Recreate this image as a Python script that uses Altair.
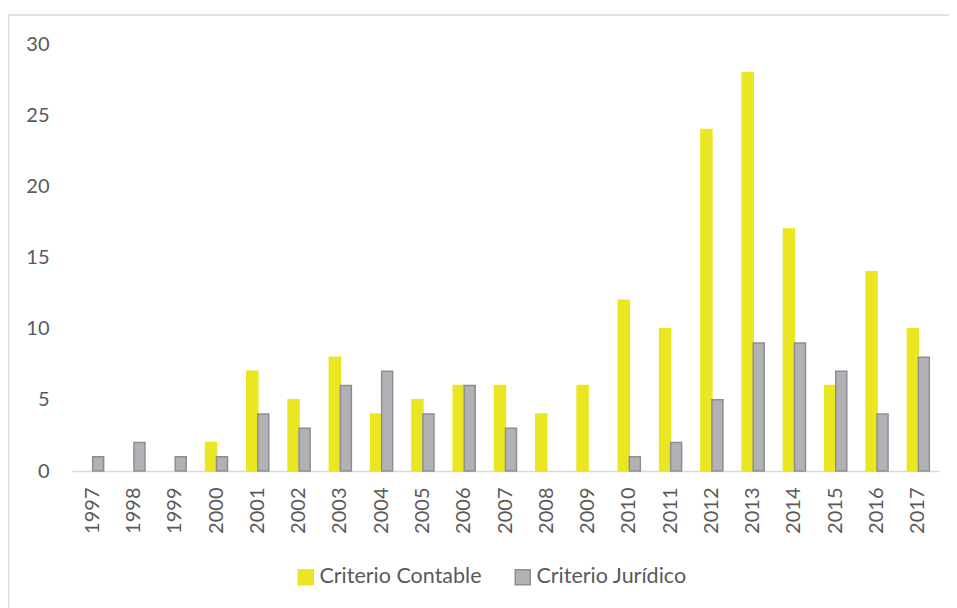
import altair as alt
import pandas as pd

years = [str(y) for y in range(1997, 2018)]
contable = [0, 0, 0, 2, 7, 5, 8, 4, 5, 6, 6, 4, 6, 12, 10, 24, 28, 17, 6, 14, 10]
juridico = [1, 2, 1, 1, 4, 3, 6, 7, 4, 6, 3, 0, 0, 1, 2, 5, 9, 9, 7, 4, 8]
series = ["Criterio Contable", "Criterio Jurídico"]
fills = ["#EAE722", "#B1B2B6"]
strokes = ["#EAE722", "#8E8E92"]

rows = []
for y, c, j in zip(years, contable, juridico):
    rows.append({"Año": y, "Serie": series[0], "Valor": c})
    rows.append({"Año": y, "Serie": series[1], "Valor": j})
df = pd.DataFrame(rows)

FONT = "Lato"
LABEL = "#595959"

leg = dict(title=None, orient="none", direction="horizontal",
           legendX=223, legendY=522, symbolType="square", symbolSize=225,
           symbolStrokeWidth=1.5, labelFontSize=21.5, labelColor=LABEL,
           labelFont=FONT, columnPadding=30, labelOffset=3, padding=0, labelLimit=400)

bars = alt.Chart(df).transform_filter("datum.Valor > 0").mark_bar(strokeWidth=1.5).encode(
    x=alt.X("Año:N", sort=years, title=None,
            scale=alt.Scale(paddingInner=0.467, paddingOuter=0.234),
            axis=alt.Axis(labelAngle=270, ticks=False, domainColor="#D9D9D9", domainWidth=1.5,
                          labelPadding=16, labelFontSize=20, labelColor=LABEL, labelFont=FONT)),
    xOffset=alt.XOffset("Serie:N", sort=series, scale=alt.Scale(paddingInner=0, paddingOuter=0)),
    y=alt.Y("Valor:Q", title=None, scale=alt.Scale(domain=[0, 30]),
            axis=alt.Axis(values=[0, 5, 10, 15, 20, 25, 30], grid=False, ticks=False, domain=False,
                          labelPadding=23, labelFontSize=20, labelColor=LABEL, labelFont=FONT)),
    fill=alt.Fill("Serie:N", sort=series, scale=alt.Scale(domain=series, range=fills),
                  legend=alt.Legend(**leg)),
    stroke=alt.Stroke("Serie:N", sort=series, scale=alt.Scale(domain=series, range=strokes),
                      legend=alt.Legend(**leg)),
)

frame = alt.Data(values=[{"k": 1}])
top_line = alt.Chart(frame).mark_rule(color="#D9D9D9", strokeWidth=1.5).encode(
    x=alt.value(-64), x2=alt.value(880), y=alt.value(-29))
left_line = alt.Chart(frame).mark_rule(color="#D9D9D9", strokeWidth=1.5).encode(
    x=alt.value(-63.5), y=alt.value(-29), y2=alt.value(580))

chart = alt.layer(bars, top_line, left_line).properties(
    width=867, height=427,
    autosize=alt.AutoSizeParams(type="none"),
    padding={"left": 64, "top": 36, "right": 10, "bottom": 137},
).configure_view(stroke=None)

chart.save("out.html", embed_options={"renderer": "svg", "actions": False})
